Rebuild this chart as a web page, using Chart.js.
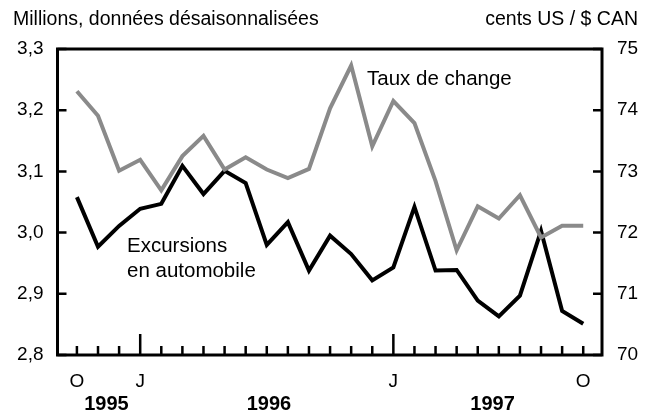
<!DOCTYPE html>
<html>
<head>
<meta charset="utf-8">
<script src="https://cdn.jsdelivr.net/npm/chart.js@4/dist/chart.umd.min.js"></script>
<style>
  html, body { margin: 0; padding: 0; background: #fff; }
  #wrap { width: 654px; height: 413px; }
</style>
</head>
<body>
<div id="wrap"><canvas id="c" width="654" height="413"></canvas></div>
<script>
// Months Oct 1995 .. Oct 1997
const months = ['O','N','D','J','F','M','A','M','J','J','A','S','O','N','D','J','F','M','A','M','J','J','A','S','O'];
const tickLabels = ['O','','','J','','','','','','','','','','','','J','','','','','','','','','O'];
const longTicks = [3, 15];
const years = ['1995', '1996', '1997'];
const yearPos = [1.4, 9.1, 19.7];

// Excursions en automobile (millions, left axis)
const excursions = [3.058, 2.977, 3.011, 3.039, 3.047, 3.109, 3.063, 3.101, 3.081, 2.980, 3.017, 2.938, 2.995,
                    2.965, 2.922, 2.943, 3.042, 2.938, 2.939, 2.889, 2.863, 2.897, 3.003, 2.872, 2.851];
// Taux de change (cents US / $ CAN, right axis)
const tauxChange = [74.31, 73.91, 73.01, 73.19, 72.69, 73.25, 73.58, 73.03, 73.23, 73.03, 72.89, 73.04, 74.03,
                    74.73, 73.41, 74.15, 73.79, 72.84, 71.71, 72.43, 72.23, 72.61, 71.92, 72.11, 72.11];

const leftTicks = [2.8, 2.9, 3.0, 3.1, 3.2, 3.3];
const rightTicks = [70, 71, 72, 73, 74, 75];

const FONT = "'Liberation Sans', Arial, Helvetica, sans-serif";
const GRAY = '#8a8a8a';

const decorPlugin = {
  id: 'decor',
  afterDraw(chart) {
    const ctx = chart.ctx;
    const a = chart.chartArea;
    const x = chart.scales.x, yl = chart.scales.y, yr = chart.scales.y2;
    ctx.save();
    ctx.strokeStyle = '#000';
    ctx.lineWidth = 2.5;
    ctx.beginPath();
    // x ticks (inward)
    months.forEach((m, i) => {
      const px = x.getPixelForValue(i);
      const len = longTicks.includes(i) ? 21 : 9;
      ctx.moveTo(px, a.bottom);
      ctx.lineTo(px, a.bottom - len);
    });
    leftTicks.forEach(v => {
      const py = yl.getPixelForValue(v);
      ctx.moveTo(a.left, py);
      ctx.lineTo(a.left + 9, py);
    });
    rightTicks.forEach(v => {
      const py = yr.getPixelForValue(v);
      ctx.moveTo(a.right, py);
      ctx.lineTo(a.right - 9, py);
    });
    ctx.stroke();
    // frame
    ctx.lineWidth = 3;
    ctx.strokeRect(a.left, a.top, a.right - a.left, a.bottom - a.top);

    // titles
    ctx.fillStyle = '#000';
    ctx.font = '19.5px ' + FONT;
    ctx.textBaseline = 'alphabetic';
    ctx.textAlign = 'left';
    ctx.fillText('Millions, données désaisonnalisées', 13, 25);
    ctx.textAlign = 'right';
    ctx.fillText('cents US / $ CAN', 638, 25);

    // annotations
    ctx.font = '20.5px ' + FONT;
    ctx.textAlign = 'left';
    ctx.fillText('Taux de change', 367, 85);
    ctx.fillText('Excursions', 127, 252);
    ctx.fillText('en automobile', 127, 277);

    // years
    ctx.font = 'bold 20px ' + FONT;
    ctx.textAlign = 'center';
    years.forEach((yv, i) => {
      ctx.fillText(yv, x.getPixelForValue(yearPos[i]), 410);
    });
    ctx.restore();
  }
};

new Chart(document.getElementById('c'), {
  type: 'line',
  data: {
    datasets: [
      {
        label: 'Taux de change',
        data: tauxChange.map((v, i) => ({ x: i, y: v })),
        yAxisID: 'y2',
        borderColor: GRAY,
        borderWidth: 4,
        pointRadius: 0,
        tension: 0,
        borderJoinStyle: 'miter',
        clip: false
      },
      {
        label: 'Excursions en automobile',
        data: excursions.map((v, i) => ({ x: i, y: v })),
        yAxisID: 'y',
        borderColor: '#000',
        borderWidth: 4,
        pointRadius: 0,
        tension: 0,
        borderJoinStyle: 'miter',
        clip: false
      }
    ]
  },
  options: {
    responsive: false,
    animation: false,
    events: [],
    layout: { padding: { top: 49, left: 0, right: 0, bottom: 0 } },
    plugins: { legend: { display: false }, tooltip: { enabled: false }, title: { display: false } },
    scales: {
      x: {
        type: 'linear',
        min: -0.92,
        max: 24.89,
        grid: { display: false, drawTicks: false },
        border: { display: false },
        afterBuildTicks: s => { s.ticks = months.map((_, i) => ({ value: i })); },
        afterFit: s => { s.height = 58; },
        ticks: {
          autoSkip: false,
          maxRotation: 0,
          padding: 15,
          color: '#000',
          font: { family: FONT, size: 19 },
          callback: v => tickLabels[v] || ''
        }
      },
      y: {
        position: 'left',
        min: 2.8,
        max: 3.3,
        grid: { display: false, drawTicks: false },
        border: { display: false },
        afterBuildTicks: s => { s.ticks = leftTicks.map(v => ({ value: v })); },
        afterFit: s => { s.width = 57.5; },
        ticks: {
          padding: 14,
          color: '#000',
          font: { family: FONT, size: 19 },
          callback: v => v.toFixed(1).replace('.', ',')
        }
      },
      y2: {
        position: 'right',
        min: 70,
        max: 75,
        grid: { display: false, drawTicks: false },
        border: { display: false },
        afterBuildTicks: s => { s.ticks = rightTicks.map(v => ({ value: v })); },
        afterFit: s => { s.width = 52; },
        ticks: {
          padding: 15,
          color: '#000',
          font: { family: FONT, size: 19 },
          callback: v => String(v)
        }
      }
    }
  },
  plugins: [decorPlugin]
});
</script>
</body>
</html>
